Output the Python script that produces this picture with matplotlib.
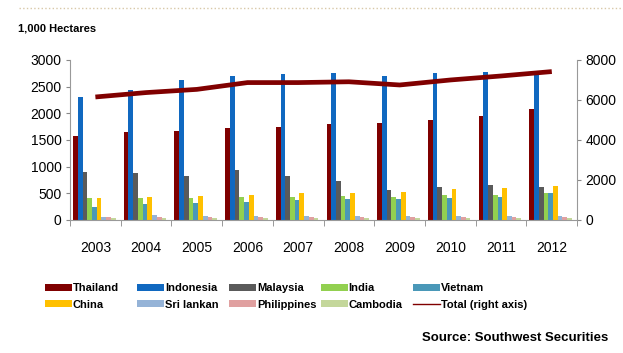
import numpy as np
import matplotlib
matplotlib.use("Agg")
import matplotlib.pyplot as plt
from matplotlib.lines import Line2D

plt.rcParams['font.family'] = ['Liberation Sans', 'DejaVu Sans']

years = ['2003', '2004', '2005', '2006', '2007', '2008', '2009', '2010', '2011', '2012']
countries = ['Thailand', 'Indonesia', 'Malaysia', 'India', 'Vietnam',
             'China', 'Sri lankan', 'Philippines', 'Cambodia']

thailand = [1575, 1645, 1670, 1720, 1750, 1800, 1825, 1880, 1955, 2085]
indonesia = [2310, 2435, 2620, 2695, 2745, 2750, 2695, 2750, 2775, 2760]
malaysia = [905, 880, 825, 930, 830, 730, 570, 625, 650, 625]
india = [420, 420, 420, 440, 440, 445, 440, 470, 470, 500]
vietnam = [245, 295, 320, 345, 370, 395, 395, 420, 440, 500]
china = [420, 440, 445, 470, 505, 500, 530, 580, 605, 630]
srilanka = [62, 90, 80, 80, 80, 80, 75, 80, 80, 80]
philippines = [55, 55, 55, 55, 55, 55, 55, 60, 60, 60]
cambodia = [30, 30, 30, 35, 35, 35, 40, 40, 45, 45]
total = [6150, 6370, 6530, 6870, 6870, 6910, 6750, 7000, 7200, 7420]

series = [thailand, indonesia, malaysia, india, vietnam,
          china, srilanka, philippines, cambodia]
colors = ['#7f0000', '#1068c0', '#5a5a5a', '#92d050', '#4a98b8',
          '#ffc000', '#95b3d7', '#e0a0a0', '#c4d79b']

fig = plt.figure(figsize=(6.23, 3.53), dpi=100)
ax = fig.add_axes([0.1124, 0.3768, 0.814, 0.4533])

x = np.arange(len(years))
w = 0.093
start = -0.44
bars = []
for i, (vals, c) in enumerate(zip(series, colors)):
    b = ax.bar(x + start + w * (i + 0.5), vals, width=w, color=c, linewidth=0)
    bars.append(b)

ax.set_xlim(-0.5, len(years) - 0.5)
ax.set_ylim(0, 3000)
ax.set_yticks(range(0, 3001, 500))
ax.set_xticks(x)
ax.set_xticklabels(years)
ax.set_xticks(np.arange(-0.5, len(years)), minor=True)
ax.tick_params(axis='x', which='major', length=0, pad=15, labelsize=10)
ax.tick_params(axis='x', which='minor', length=4, color='#888888', direction='out')
ax.tick_params(axis='y', length=3, color='#888888', labelsize=10, pad=3)
for s in ['top', 'right']:
    ax.spines[s].set_visible(False)
for s in ['left', 'bottom']:
    ax.spines[s].set_color('#999999')

ax2 = ax.twinx()
ax2.set_ylim(0, 8000)
ax2.set_yticks(range(0, 8001, 2000))
ax2.tick_params(axis='y', length=3, color='#888888', labelsize=10, pad=3)
for s in ['top', 'left', 'bottom']:
    ax2.spines[s].set_visible(False)
ax2.spines['right'].set_color('#999999')
ax2.plot(x, total, color='#800000', linewidth=3.4, solid_capstyle='butt')

fig.text(0.029, 0.912, '1,000 Hectares', fontsize=8, fontweight='bold')

# legend: 5 evenly spaced columns, two rows each
handles = [b for b in bars] + [Line2D([], [], color='#800000', linewidth=1)]
labels = countries + ['Total (right axis)']
col_x = [0.072, 0.22, 0.368, 0.515, 0.663]
for k, cx in enumerate(col_x):
    fig.legend([handles[k], handles[k + 5]], [labels[k], labels[k + 5]],
               loc='upper left', bbox_to_anchor=(cx, 0.197),
               frameon=False, prop={'weight': 'bold', 'size': 8},
               handlelength=2.4, handleheight=0.6, handletextpad=0.1,
               labelspacing=0.55, borderpad=0, borderaxespad=0)

fig.text(0.976, 0.035, 'Source: Southwest Securities', fontsize=9.5,
         fontweight='bold', ha='right')

fig.add_artist(Line2D([0.03, 1.0], [0.978, 0.978], transform=fig.transFigure,
                      color='#d8c8a8', linewidth=1, linestyle=':'))

fig.savefig('out.png', dpi=100)
